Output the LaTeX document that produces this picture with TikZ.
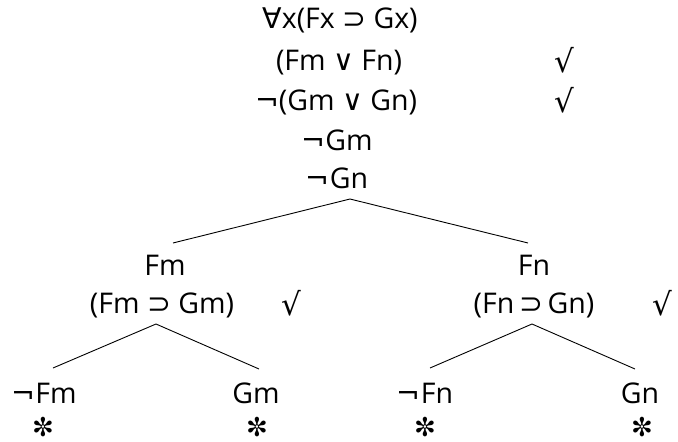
\documentclass[tikz,border=0pt]{standalone}
\usepackage{fontspec}
\setmainfont{Open Sans}
\newfontfamily\symf{DejaVu Sans}
\newcommand{\sy}[1]{{\symf #1}}
\begin{document}
\begin{tikzpicture}[x=1pt,y=-1pt,
  lbl/.style={anchor=base,inner sep=0pt,font=\fontsize{28.5}{33}\selectfont},
  ck/.style={anchor=base,inner sep=0pt,font=\fontsize{31}{36}\selectfont\symf},
  mk/.style={anchor=center,inner sep=0pt,font=\fontsize{26}{30}\selectfont\symf},
  br/.style={line width=0.9pt}]
\useasboundingbox (0,0) rectangle (678,442);
\node[lbl] (r1) at (340,28) {\sy{∀}x(Fx \sy{⊃} Gx)};
\node[lbl] (r2) at (339,70) {(Fm \sy{∨} Fn)};
\node[ck] (c2) at (564,72) {√};
\node[lbl] (r3) at (336,110) {\sy{¬}(Gm \sy{∨} Gn)};
\node[ck] (c3) at (564,112) {√};
\node[lbl] (r4) at (337,150) {\sy{¬}Gm};
\node[lbl] (r5) at (337,188) {\sy{¬}Gn};
\coordinate (a0) at (350,199);
\coordinate (l0) at (173,243);
\coordinate (r0) at (528,243);
\draw[br] (l0) -- (a0) -- (r0);
% left branch
\node[lbl] (fm) at (165,275) {Fm};
\node[lbl] (fmg) at (162,313) {(Fm \sy{⊃} Gm)};
\node[ck] (cl) at (291,315) {√};
\coordinate (a1) at (156,324);
\coordinate (l1) at (53,368);
\coordinate (r1e) at (259,369);
\draw[br] (l1) -- (a1) -- (r1e);
\node[lbl] (nfm) at (44,403) {\sy{¬}Fm};
\node[lbl] (gm) at (256,403) {Gm};
\node[mk] (x1) at (43,427) {✼};
\node[mk] (x2) at (257,427) {✼};
% right branch
\node[lbl] (fn) at (534,275) {Fn};
\node[lbl] (fng) at (534,313) {(Fn\,\sy{⊃}\,Gn)};
\node[ck] (cr) at (662,315) {√};
\coordinate (a2) at (532,324);
\coordinate (l2) at (430,368);
\coordinate (r2e) at (635,369);
\draw[br] (l2) -- (a2) -- (r2e);
\node[lbl] (nfn) at (425,403) {\sy{¬}Fn};
\node[lbl] (gn) at (640,403) {Gn};
\node[mk] (x3) at (425,427) {✼};
\node[mk] (x4) at (642,427) {✼};
\end{tikzpicture}
\end{document}
